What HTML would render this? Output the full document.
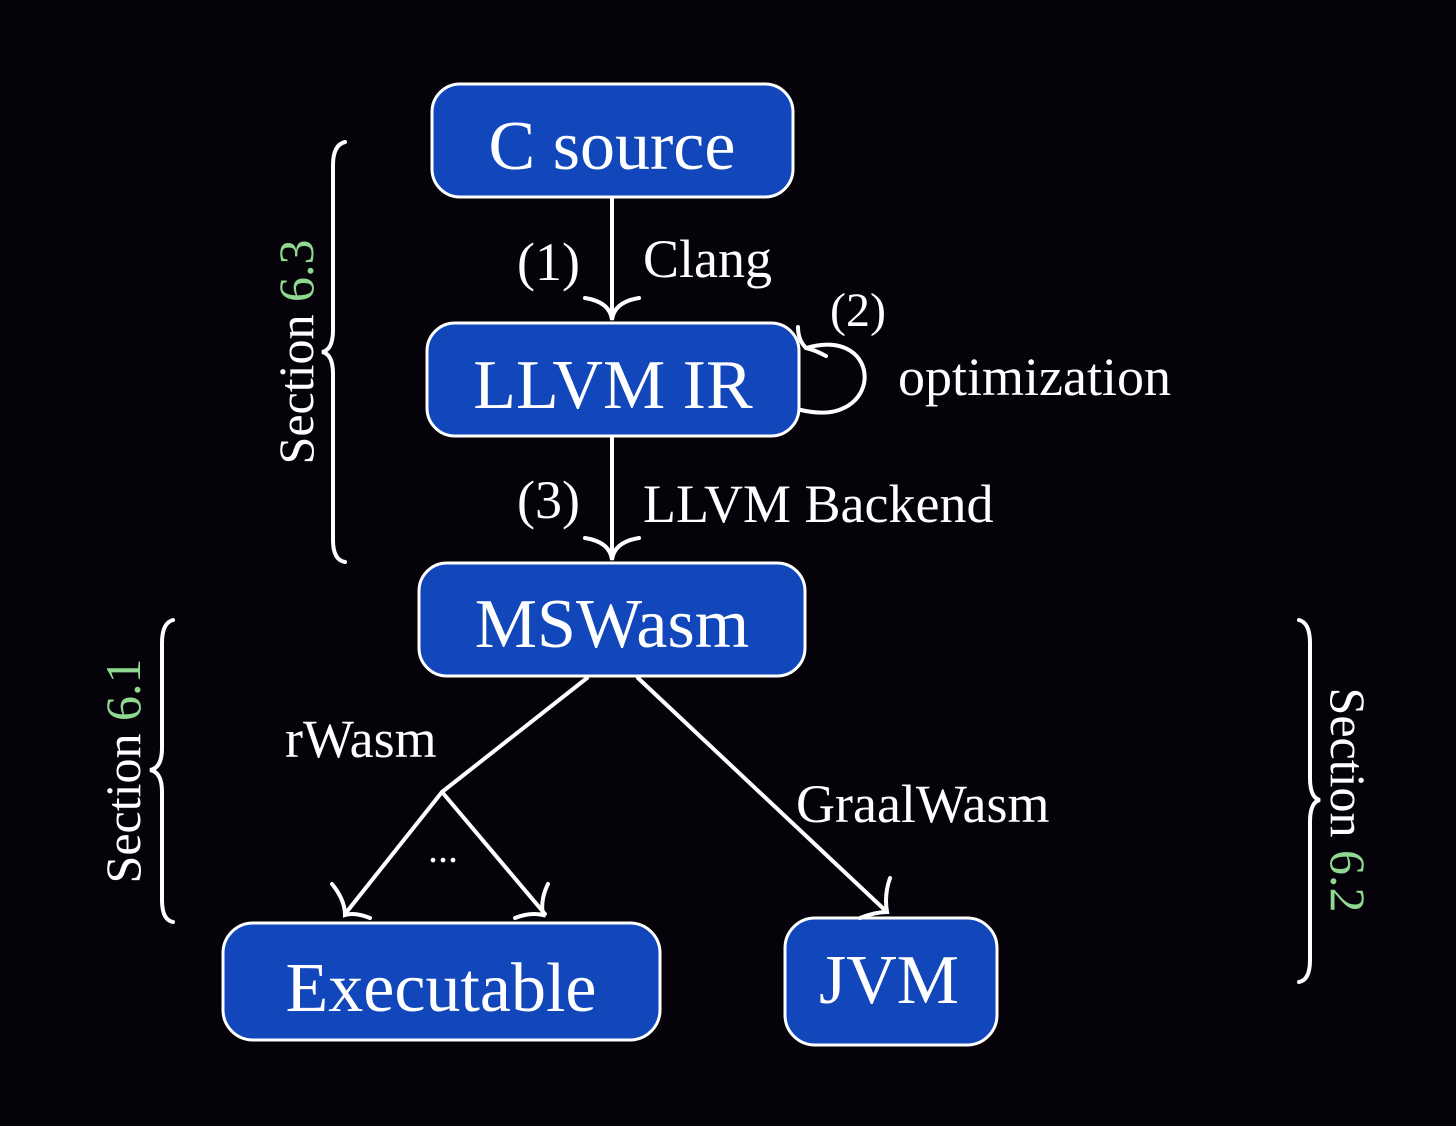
<!DOCTYPE html>
<html><head><meta charset="utf-8"><style>html,body{margin:0;padding:0;background:#05020a}svg{display:block}</style></head><body>
<svg width="1456" height="1126" viewBox="0 0 1456 1126" xmlns="http://www.w3.org/2000/svg">
<rect width="1456" height="1126" fill="#05020a"/>
<g fill="#1147bb" stroke="#fff" stroke-width="3">
<rect x="432" y="84" width="361" height="113" rx="28"/>
<rect x="427" y="323" width="372" height="113" rx="28"/>
<rect x="419" y="563" width="386" height="113" rx="28"/>
<rect x="223" y="923" width="437" height="117" rx="30"/>
<rect x="785" y="918" width="212" height="127" rx="30"/>
</g>
<g font-family="Liberation Serif, serif" fill="#fff" text-anchor="middle" font-size="70">
<text x="612" y="169">C source</text>
<text x="613" y="408">LLVM IR</text>
<text x="612" y="647">MSWasm</text>
<text x="441" y="1011">Executable</text>
<text x="889" y="1003">JVM</text>
</g>
<g font-family="Liberation Serif, serif" fill="#fff" font-size="54">
<text x="517" y="280">(1)</text>
<text x="643" y="277">Clang</text>
<text x="830" y="326" font-size="48">(2)</text>
<text x="898" y="395">optimization</text>
<text x="517" y="518">(3)</text>
<text x="643" y="522">LLVM Backend</text>
<text x="285" y="757">rWasm</text>
<text x="796" y="822">GraalWasm</text>
<text x="443" y="862" text-anchor="middle" font-size="40">...</text>
</g>
<g stroke="#fff" stroke-width="4" fill="none" stroke-linecap="round">
<line x1="612" y1="198" x2="612" y2="318"/>
<path d="M585,298 Q610,302 612,320 Q614,302 639,298"/>
<line x1="612" y1="437" x2="612" y2="558"/>
<path d="M585,538 Q610,542 612,560 Q614,542 639,538"/>
<line x1="587" y1="678" x2="442" y2="792"/>
<line x1="442" y1="792" x2="345" y2="914"/>
<line x1="442" y1="792" x2="545" y2="914"/>
<line x1="638" y1="678" x2="887" y2="912"/>
<path d="M332,884 Q345,900 345,915 Q355,912 370,918"/>
<path d="M548,884 Q540,900 543,915 Q530,912 515,918"/>
<path d="M890,878 Q884,895 887,912 Q875,912 860,918"/>
<path d="M801,410 C885,430 885,325 806,348"/>
<path d="M798,327 Q798,340 806,348 Q815,350 826,356"/>
<path d="M345,142 Q333,145 333,165 L333,330 Q333,350 322,352 Q333,354 333,374 L333,540 Q333,560 345,562"/>
<path d="M173,620 Q162,623 162,643 L162,748 Q162,768 150,770 Q162,772 162,792 L162,900 Q162,920 173,922"/>
<path d="M1299,620 Q1310,623 1310,643 L1310,778 Q1310,798 1320,800 Q1310,802 1310,822 L1310,960 Q1310,980 1299,982"/>
</g>
<g font-family="Liberation Serif, serif" font-size="50" fill="#fff" text-anchor="middle">
<text transform="translate(313,352) rotate(-90)">Section <tspan fill="#8fd88f">6.3</tspan></text>
<text transform="translate(140,771) rotate(-90)">Section <tspan fill="#8fd88f">6.1</tspan></text>
<text transform="translate(1331,800) rotate(90)">Section <tspan fill="#8fd88f">6.2</tspan></text>
</g>
</svg>
</body></html>
